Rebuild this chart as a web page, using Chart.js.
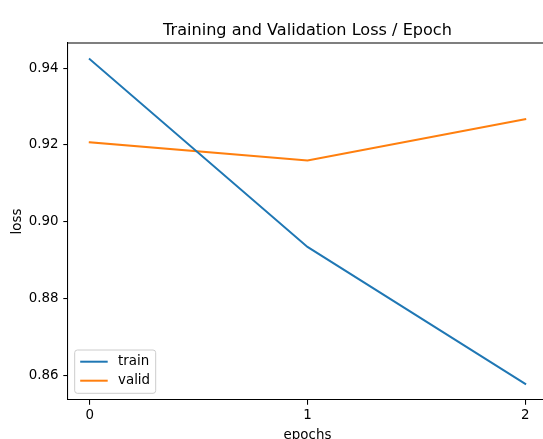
<!DOCTYPE html>
<html>
<head>
<meta charset="utf-8">
<script src="https://cdn.jsdelivr.net/npm/chart.js@4/dist/chart.umd.min.js"></script>
<style>
  html, body { margin: 0; padding: 0; background: #fff; overflow: hidden; width: 543px; height: 439px; }
  #wrap { position: absolute; left: 0; top: 0; width: 560px; height: 450px; }
</style>
</head>
<body>
<div id="wrap"><canvas id="c"></canvas></div>
<script>
// Loss per epoch
const epochs = [0, 1, 2];
const trainLoss = [0.9423, 0.8935, 0.8579];
const validLoss = [0.9207, 0.9160, 0.9267];
const seriesNames = ['train', 'valid'];
const seriesColors = ['#1f77b4', '#ff7f0e'];
const xTicks = [0, 1, 2];
const yTicks = [0.86, 0.88, 0.90, 0.92, 0.94];

// Axis limits with a 5% margin around the data
function padded(values) {
  const lo = Math.min(...values), hi = Math.max(...values);
  const m = (hi - lo) * 0.05;
  return [lo - m, hi + m];
}
const [xMin, xMax] = padded(epochs);
const [yMin, yMax] = padded(trainLoss.concat(validLoss));

const FONT = "'DejaVu Sans', sans-serif";
const TICK_SIZE = 13.4;
Chart.defaults.font.family = FONT;
Chart.defaults.color = '#000';

// Top and right spines of the axes box
const frame = {
  id: 'frame',
  afterDatasetsDraw(chart) {
    const { ctx, chartArea: a } = chart;
    ctx.save();
    ctx.strokeStyle = '#000';
    ctx.lineWidth = 1.07;
    ctx.beginPath();
    ctx.moveTo(a.left, a.top);
    ctx.lineTo(a.right, a.top);
    ctx.lineTo(a.right, a.bottom);
    ctx.stroke();
    ctx.restore();
  }
};

// Legend box in the lower-left corner of the plot area
const cornerLegend = {
  id: 'cornerLegend',
  afterDatasetsDraw(chart) {
    const { ctx, chartArea: a } = chart;
    const sets = chart.data.datasets;
    const boxX = a.left + 6.7, boxW = 81;
    const rowH = 19, boxH = 43.3;
    const boxY = a.bottom - 6.7 - boxH;
    ctx.save();
    ctx.beginPath();
    ctx.roundRect(boxX, boxY, boxW, boxH, 2.7);
    ctx.fillStyle = 'rgba(255,255,255,0.8)';
    ctx.fill();
    ctx.strokeStyle = '#cccccc';
    ctx.lineWidth = 1;
    ctx.stroke();
    ctx.font = TICK_SIZE + 'px ' + FONT;
    ctx.textBaseline = 'middle';
    ctx.textAlign = 'left';
    sets.forEach((ds, i) => {
      const y = boxY + 11.7 + i * rowH;
      ctx.strokeStyle = ds.borderColor;
      ctx.lineWidth = 2;
      ctx.beginPath();
      ctx.moveTo(boxX + 5.5, y);
      ctx.lineTo(boxX + 33, y);
      ctx.stroke();
      ctx.fillStyle = '#000';
      ctx.fillText(ds.label, boxX + 43.3, y);
    });
    ctx.restore();
  }
};

const toPoints = ys => epochs.map((x, i) => ({ x, y: ys[i] }));

new Chart(document.getElementById('c'), {
  type: 'line',
  data: {
    datasets: [
      { label: seriesNames[0], data: toPoints(trainLoss), borderColor: seriesColors[0], backgroundColor: seriesColors[0] },
      { label: seriesNames[1], data: toPoints(validLoss), borderColor: seriesColors[1], backgroundColor: seriesColors[1] }
    ]
  },
  options: {
    responsive: true,
    maintainAspectRatio: false,
    animation: false,
    devicePixelRatio: 1,
    layout: { padding: { left: 0, right: 13, top: 0, bottom: 0 } },
    elements: {
      line: { borderWidth: 2, tension: 0, fill: false, borderCapStyle: 'square' },
      point: { radius: 0, hoverRadius: 0 }
    },
    plugins: {
      legend: { display: false },
      tooltip: { enabled: false },
      title: {
        display: true,
        text: 'Training and Validation Loss / Epoch',
        fullSize: false,
        color: '#000',
        font: { size: 16.1, weight: 'normal', family: FONT },
        padding: { top: 20.8, bottom: 2.9 }
      }
    },
    scales: {
      x: {
        type: 'linear',
        min: xMin,
        max: xMax,
        afterBuildTicks: s => { s.ticks = xTicks.map(v => ({ value: v })); },
        afterFit: s => { s.height = 50; },
        ticks: { padding: 2.4, color: '#000', font: { size: TICK_SIZE }, callback: v => String(v) },
        grid: { display: true, drawOnChartArea: false, drawTicks: true, tickLength: 4.7, color: '#000', lineWidth: 1.07 },
        border: { display: true, color: '#000', width: 1.07 },
        title: { display: true, text: 'epochs', color: '#000', font: { size: TICK_SIZE }, padding: { top: 0, bottom: 6.2 } }
      },
      y: {
        type: 'linear',
        min: yMin,
        max: yMax,
        afterBuildTicks: s => { s.ticks = yTicks.map(v => ({ value: v })); },
        afterFit: s => { s.width = 68; },
        ticks: { padding: 4.8, color: '#000', font: { size: TICK_SIZE }, callback: v => v.toFixed(2) },
        grid: { display: true, drawOnChartArea: false, drawTicks: true, tickLength: 4.7, color: '#000', lineWidth: 1.07 },
        border: { display: true, color: '#000', width: 1.07 },
        title: { display: true, text: 'loss', color: '#000', font: { size: TICK_SIZE }, padding: { top: 9, bottom: 0 } }
      }
    }
  },
  plugins: [frame, cornerLegend]
});
</script>
</body>
</html>
